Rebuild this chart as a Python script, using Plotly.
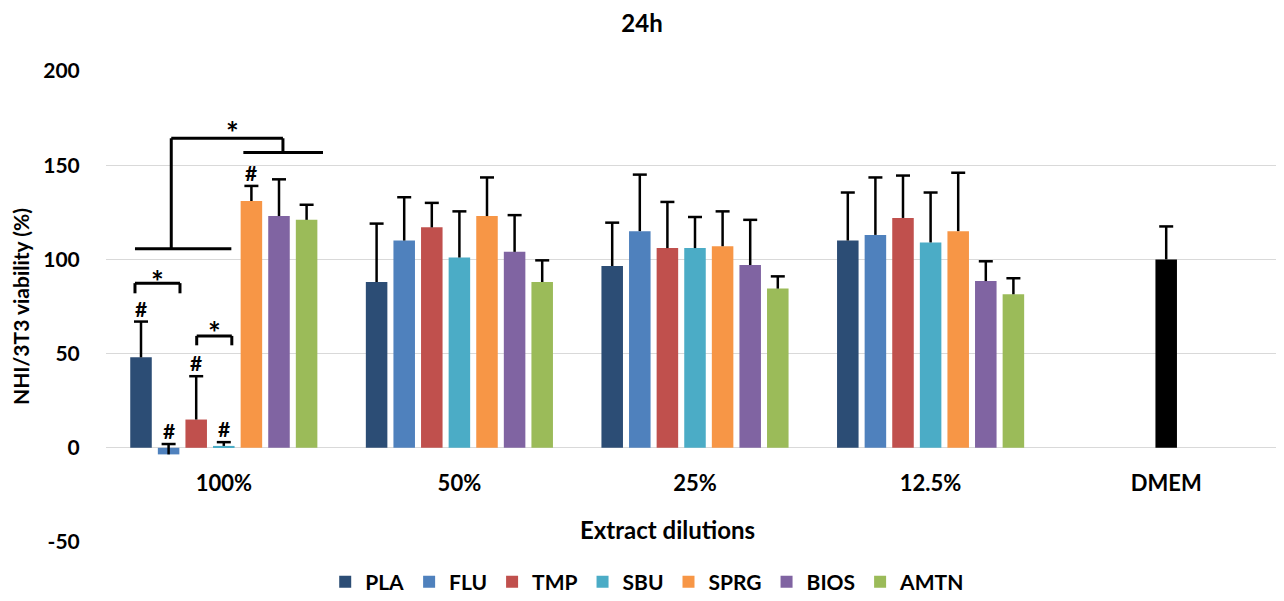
import plotly.graph_objects as go

categories = ["100%", "50%", "25%", "12.5%", "DMEM"]
series_names = ["PLA", "FLU", "TMP", "SBU", "SPRG", "BIOS", "AMTN"]
colors = ["#2C4D75", "#4F81BD", "#C0504D", "#4BACC6", "#F79646", "#8064A2", "#9BBB59"]
dmem_color = "#000000"

PLA = [48, 88, 96.5, 110, None]
FLU = [-3.5, 110, 115, 113, None]
TMP = [15, 117, 106, 122, None]
SBU = [1, 101, 106, 109, 100]
SPRG = [131, 123, 107, 115, None]
BIOS = [123, 104, 97, 88.5, None]
AMTN = [121, 88, 84.5, 81.5, None]

PLA_err = [19, 31, 23, 25.5, 0]
FLU_err = [5.5, 23, 30, 30.5, 0]
TMP_err = [23, 13, 24.5, 22.5, 0]
SBU_err = [2, 24.5, 16.5, 26.5, 17.5]
SPRG_err = [8, 20.5, 18.5, 31, 0]
BIOS_err = [19.5, 19.5, 24, 10.5, 0]
AMTN_err = [8, 11.5, 6.5, 8.5, 0]

y_tickvals = [-50, 0, 50, 100, 150, 200]
y_ticktext = ["-50", "0", "50", "100", "150", "200"]

values = [PLA, FLU, TMP, SBU, SPRG, BIOS, AMTN]
errors = [PLA_err, FLU_err, TMP_err, SBU_err, SPRG_err, BIOS_err, AMTN_err]

# significance marks in the 100% group
hash_series = ["PLA", "FLU", "TMP", "SBU", "SPRG"]

FONT = "Lato"
BARGAP = 0.18
NS = len(series_names)
cat_pos = list(range(len(categories)))

# page has an 8px body margin; figure sized to fit inside the window
W, H = 1268, 585
ML, MT, MB = 98, 63, 51
PLOT_W = W - ML
CAT_PX = 235.6


def bar_x(series_idx, cat_idx):
    slot = (1 - BARGAP) / NS
    return cat_idx - (1 - BARGAP) / 2 + slot * (series_idx + 0.5)


fig = go.Figure()
for i, name in enumerate(series_names):
    col = [colors[i]] * len(categories)
    if name == "SBU":
        col[-1] = dmem_color
    fig.add_trace(go.Bar(
        name=name, x=cat_pos, y=values[i],
        marker=dict(color=col, line=dict(width=0)),
        error_y=dict(type="data", symmetric=False, array=errors[i],
                     arrayminus=[0] * len(categories),
                     color="black", thickness=2.5, width=0),
    ))

# caps of the error bars
cap_x, cap_y = [], []
for i in range(NS):
    for c in cat_pos:
        v = values[i][c]
        if v is not None and errors[i][c] > 0:
            cap_x.append(bar_x(i, c))
            cap_y.append(v + errors[i][c])
fig.add_trace(go.Scatter(x=cap_x, y=cap_y, mode="markers", showlegend=False,
                         hoverinfo="skip",
                         marker=dict(symbol="line-ew", size=10, color="black",
                                     line=dict(color="black", width=2.5))))

annotations = []
for name in hash_series:
    k = series_names.index(name)
    top = values[k][0] + errors[k][0]
    annotations.append(dict(x=bar_x(k, 0), y=top, xref="x", yref="y", text="#",
                            showarrow=False, yanchor="bottom", yshift=-1,
                            font=dict(family=FONT, size=21, color="black", weight=700)))

shapes = []
LW = 3


def line(x0, y0, x1, y1):
    shapes.append(dict(type="line", xref="x", yref="y", x0=x0, y0=y0, x1=x1, y1=y1,
                       line=dict(color="black", width=LW)))


def star(x, y):
    annotations.append(dict(x=x, y=y, xref="x", yref="y", text="*", showarrow=False,
                            yanchor="middle",
                            font=dict(family=FONT, size=30, color="black", weight=700)))

# bracket PLA - FLU
bx0, bx1 = -0.377, -0.186
line(bx0, 87.4, bx1, 87.4)
line(bx0, 87.4, bx0, 82)
line(bx1, 87.4, bx1, 82)
star((bx0 + bx1) / 2, 88.5)

# bracket TMP - SBU
cx0, cx1 = -0.115, 0.034
line(cx0, 59.4, cx1, 59.4)
line(cx0, 59.4, cx0, 54.4)
line(cx1, 59.4, cx1, 54.4)
star((cx0 + cx1) / 2, 61.5)

# big bracket (PLA..SBU vs SPRG..AMTN)
line(-0.377, 105.7, 0.032, 105.7)
line(-0.223, 105.7, -0.223, 164.3)
line(-0.223, 164.3, 0.251, 164.3)
line(0.251, 164.3, 0.251, 156.7)
line(0.083, 156.7, 0.421, 156.7)
star(0.035, 167.5)

# x axis title
annotations.append(dict(x=0.480, y=0.0255, xref="paper", yref="paper",
                        text="Extract dilutions", showarrow=False,
                        xanchor="center", yanchor="middle",
                        font=dict(family=FONT, size=24, color="black", weight=700)))

ymin, ymax = -50, 200

fig.update_layout(
    width=W, height=H,
    margin=dict(l=ML, r=0, t=MT, b=MB, autoexpand=False),
    paper_bgcolor="white", plot_bgcolor="white",
    barmode="group", bargap=BARGAP, bargroupgap=0.22,
    title=dict(text="24h", x=0.5, xref="container", y=1 - 16 / H, yref="container",
               xanchor="center", yanchor="middle",
               font=dict(family=FONT, size=24, color="black", weight=700)),
    font=dict(family=FONT, size=21, color="black"),
    showlegend=True,
    legend=dict(orientation="h", x=0.463, xanchor="center", y=-0.085, yanchor="middle",
                font=dict(family=FONT, size=21, color="black", weight=700),
                bgcolor="rgba(0,0,0,0)", itemclick=False),
    shapes=shapes,
    annotations=annotations,
)
fig.update_yaxes(range=[ymin, ymax], tickvals=y_tickvals, ticktext=y_ticktext,
                 showgrid=True, gridcolor="#d9d9d9",
                 gridwidth=1, zeroline=False, showline=False,
                 ticks="outside", ticklen=21, tickcolor="rgba(0,0,0,0)",
                 tickfont=dict(family=FONT, size=21, color="black", weight=700),
                 title=dict(text="NHI/3T3 viability (%)", standoff=8,
                            font=dict(family=FONT, size=21, color="black", weight=700)))
fig.update_xaxes(type="linear", range=[-0.5, -0.5 + PLOT_W / CAT_PX],
                 tickvals=cat_pos, ticktext=categories,
                 anchor="free", position=(0 - ymin) / (ymax - ymin),
                 showgrid=False, showline=False, zeroline=False,
                 ticks="outside", ticklen=16, tickcolor="rgba(0,0,0,0)",
                 tickfont=dict(family=FONT, size=22, color="black", weight=700))

fig.write_html("out.html")
